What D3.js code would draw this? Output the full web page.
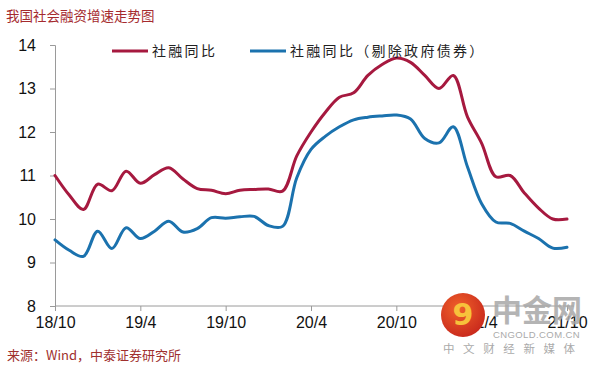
<!DOCTYPE html>
<html><head><meta charset="utf-8">
<script src="https://cdn.jsdelivr.net/npm/d3@7"></script>
<style>body{margin:0;background:#fff}svg{display:block}</style>
</head><body>
<svg id="c" width="597" height="366"></svg>
<script>
const months = ["18/10","18/11","18/12","19/1","19/2","19/3","19/4","19/5","19/6","19/7","19/8","19/9","19/10","19/11","19/12","20/1","20/2","20/3","20/4","20/5","20/6","20/7","20/8","20/9","20/10","20/11","20/12","21/1","21/2","21/3","21/4","21/5","21/6","21/7","21/8","21/9","21/10"];
const tsf = [11.00,10.55,10.22,10.80,10.65,11.10,10.82,11.02,11.18,10.92,10.70,10.66,10.58,10.66,10.68,10.69,10.64,11.45,12.00,12.45,12.80,12.90,13.30,13.55,13.70,13.60,13.30,13.00,13.30,12.35,11.74,10.97,11.00,10.60,10.25,10.00,10.00];
const tsfExGov = [9.52,9.28,9.14,9.72,9.32,9.80,9.55,9.72,9.95,9.70,9.78,10.03,10.02,10.05,10.06,9.85,9.83,10.95,11.60,11.90,12.12,12.28,12.34,12.37,12.39,12.30,11.85,11.75,12.12,11.20,10.35,9.93,9.90,9.72,9.55,9.33,9.35];
const xTickLabels = ["18/10","19/4","19/10","20/4","20/10","21/4","21/10"];
const yTicks = [8,9,10,11,12,13,14];
const seriesNames = ["社融同比","社融同比（剔除政府债券）"];
const colors = ["#A6193F","#1B72AE"];

const svg = d3.select("#c");
const x = d3.scalePoint().domain(months).range([55,567]);
const y = d3.scaleLinear().domain([8,14]).range([306,45]);

// title
svg.append("text").attr("x",6).attr("y",21).attr("font-family","Noto Sans CJK SC").attr("font-size",13.5)
  .attr("fill","#A52A2E").text("我国社会融资增速走势图");

// y axis
const yAxis = svg.append("g").attr("transform","translate(55,0)")
  .call(d3.axisLeft(y).tickValues(yTicks).tickSize(5).tickPadding(14).tickFormat(d3.format("d")));
yAxis.selectAll("path,line").attr("stroke","#9a9a9a");
yAxis.selectAll("text").attr("font-family","Liberation Sans, Arial").attr("font-size",16).attr("fill","#111");

// x axis
const xAxis = svg.append("g").attr("transform","translate(0,306)")
  .call(d3.axisBottom(x).tickValues(xTickLabels).tickSize(5).tickSizeOuter(0).tickPadding(6));
xAxis.select("path").attr("d","M55,0H574");
xAxis.selectAll("path,line").attr("stroke","#9a9a9a");
xAxis.selectAll("text").attr("font-family","Liberation Sans, Arial").attr("font-size",16).attr("fill","#111");

// lines
const line = d3.line().x((d,i)=>x(months[i])).y(d=>y(d)).curve(d3.curveCatmullRom.alpha(0.5));
[tsf, tsfExGov].forEach((s,k)=>{
  svg.append("path").datum(s).attr("d",line).attr("fill","none")
    .attr("stroke",colors[k]).attr("stroke-width",3).attr("stroke-linejoin","round").attr("stroke-linecap","round");
});

// legend
const legX = [112,250];
seriesNames.forEach((n,k)=>{
  svg.append("line").attr("x1",legX[k]).attr("x2",legX[k]+36).attr("y1",51).attr("y2",51)
    .attr("stroke",colors[k]).attr("stroke-width",3);
  svg.append("text").attr("x",legX[k]+40).attr("y",56).attr("font-family","Noto Sans CJK SC")
    .attr("font-size",14).attr("letter-spacing",2.3).attr("fill","#222").text(n);
});

// source
svg.append("text").attr("x",7).attr("y",360).attr("font-family","Noto Sans CJK SC").attr("font-size",13)
  .attr("fill","#A0302E").text("来源：Wind，中泰证券研究所");

// watermark
const wm = svg.append("g");
const grad = svg.append("defs").append("radialGradient").attr("id","wg").attr("cx","40%").attr("cy","35%").attr("r","70%");
grad.append("stop").attr("offset","0%").attr("stop-color","#F0612A");
grad.append("stop").attr("offset","100%").attr("stop-color","#C8281C");
wm.append("circle").attr("cx",463).attr("cy",315).attr("r",22).attr("fill","url(#wg)");
wm.append("text").attr("x",463).attr("y",325).attr("text-anchor","middle").attr("font-family","DejaVu Sans").attr("font-weight","bold")
  .attr("font-size",30).attr("fill","#F7C23B").text("9");
wm.append("text").attr("x",492).attr("y",321).attr("font-family","Noto Sans CJK SC").attr("font-weight","bold")
  .attr("font-size",30).attr("fill","#a8a8a8").attr("opacity",0.85).text("中金网");
wm.append("text").attr("x",493).attr("y",338).attr("font-family","Liberation Sans").attr("font-size",9.5)
  .attr("fill","#aaa").attr("letter-spacing",0.4).text("CNGOLD.COM.CN");
wm.append("text").attr("x",443).attr("y",353).attr("font-family","Noto Sans CJK SC").attr("font-size",11.5)
  .attr("fill","#aaa").attr("letter-spacing",8.6).text("中文财经新媒体");
</script>
</body></html>
